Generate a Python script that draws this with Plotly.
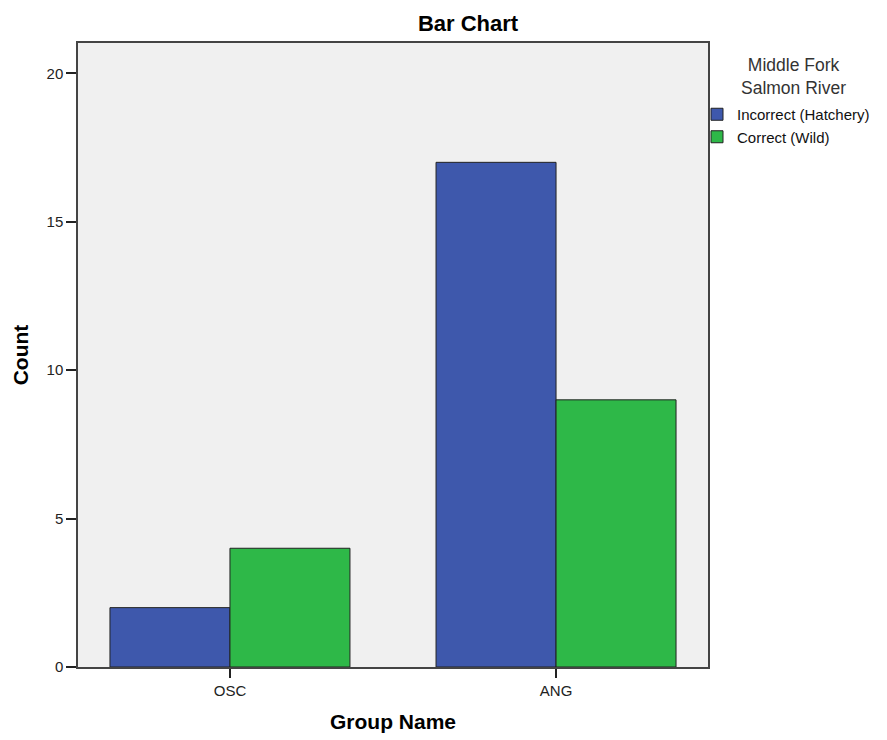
import plotly.graph_objects as go

groups = ["OSC", "ANG"]
series_names = ["Incorrect (Hatchery)", "Correct (Wild)"]
hatchery = [2, 17]
wild = [4, 9]
colors = ["#3E58AC", "#2EB848"]
y_ticks = [0, 5, 10, 15, 20]

# page body has an 8px margin, so the figure is drawn at (8, 8)
W, H = 879, 732
L, T, R, B = 70, 35, 179, 73
plot_w = W - L - R
plot_h = H - T - B

fig = go.Figure()
for name, vals, col in zip(series_names, [hatchery, wild], colors):
    fig.add_trace(go.Bar(
        x=groups, y=vals, name=name,
        marker=dict(color=col, line=dict(color="#222222", width=1)),
    ))

font_family = "Liberation Sans, Arial, sans-serif"
fig.update_layout(
    width=W, height=H,
    margin=dict(l=L, r=R, t=T, b=B, autoexpand=False),
    paper_bgcolor="white",
    plot_bgcolor="#F0F0F0",
    barmode="group",
    bargap=0.264,
    bargroupgap=0,
    font=dict(family=font_family, color="#222222"),
    title=dict(text="<b>Bar Chart</b>", x=460 / W, xanchor="center",
               y=1 - 15 / H, yanchor="middle", font=dict(size=22, color="#000000")),
    xaxis=dict(
        range=[-0.466, 1.466], showgrid=False, zeroline=False,
        showline=True, linecolor="#444444", linewidth=1.5, mirror=True,
        ticks="outside", ticklen=9, tickcolor="#222222", tickwidth=1.5,
        tickfont=dict(size=15, color="#222222"),
        title=dict(text="<b>Group Name</b>", font=dict(size=21, color="#000000"), standoff=17),
    ),
    yaxis=dict(
        range=[0, 21.02], tickvals=y_ticks, showgrid=False, zeroline=False,
        showline=True, linecolor="#444444", linewidth=1.5, mirror=True,
        ticks="outside", ticklen=10, tickcolor="#222222", tickwidth=1.5,
        tickfont=dict(size=15, color="#222222"),
        title=dict(text="<b>Count</b>", font=dict(size=21, color="#000000"), standoff=12),
    ),
    legend=dict(
        x=(689 - L) / plot_w, xanchor="left",
        y=1 - (90 - T) / plot_h, yanchor="top",
        bgcolor="rgba(0,0,0,0)",
        font=dict(size=15, color="#111111"),
        traceorder="normal",
        itemclick=False,
    ),
    showlegend=True,
)

fig.add_annotation(
    text="Middle Fork<br>Salmon River", showarrow=False,
    xref="paper", yref="paper",
    x=(785 - L) / plot_w, xanchor="center",
    y=1 - (45 - T) / plot_h, yanchor="top",
    font=dict(size=17.5, color="#333333"), align="center",
)

fig.write_html("out.html")
